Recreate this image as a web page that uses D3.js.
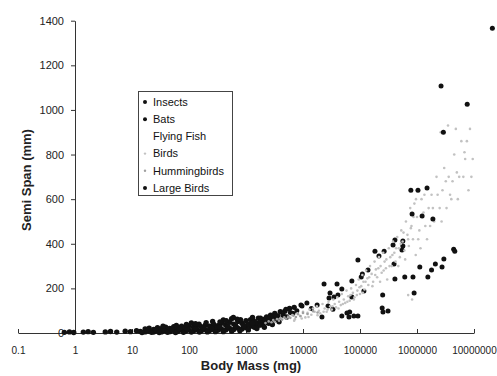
<!DOCTYPE html>
<html>
<head>
<meta charset="utf-8">
<script src="https://cdn.jsdelivr.net/npm/d3@7"></script>
<style>
  body { margin: 0; background: #fff; }
  svg { display: block; font-family: "Liberation Sans", Arial, sans-serif; }
</style>
</head>
<body>
<svg width="497" height="376"></svg>
<script>
const w = 497;
const h = 376;

// [body mass (mg), semi span (mm)]
const insects = [
  [0.65, 3], [0.8, 5], [0.95, 2], [1.4, 4], [1.7, 6], [2.1, 3], [3.4, 5], [4.2, 7], [5.4, 4],
  [7.6, 8], [9.4, 6], [12, 10], [14, 7],
  [17, 5], [17, 18], [20, 8], [20, 22], [24, 4], [24, 16], [28, 9], [28, 24], [33, 5], [33, 19],
  [39, 10], [39, 26], [46, 6], [46, 20], [54, 11], [54, 28], [63, 7], [63, 22], [74, 12], [74, 30],
  [87, 8], [87, 24], [100, 13], [100, 32], [120, 9], [120, 26], [140, 14], [140, 34], [165, 10],
  [165, 28], [195, 15], [195, 36], [230, 11], [230, 30], [270, 16], [270, 40], [320, 12], [320, 33],
  [370, 18], [370, 44], [440, 14], [440, 36], [520, 20], [520, 48], [610, 16], [610, 40], [720, 22],
  [720, 52], [850, 18], [850, 44], [1000, 24], [1000, 55], [1200, 30], [1200, 60], [1400, 26],
  [1400, 52], [1650, 35], [1650, 66], [1950, 40], [1950, 58], [2300, 48], [2300, 72], [2700, 55],
  [2700, 80], [110, 45], [150, 40], [260, 52], [300, 24], [400, 58], [480, 28], [560, 64], [600, 70],
  [660, 30], [800, 60], [900, 32], [1100, 40], [1300, 70], [1500, 45], [1800, 50], [2100, 62],
  [2500, 65], [3000, 70], [3200, 88], [3600, 76], [4000, 95],
  [15, 2], [19, 12], [22, 3], [26, 14], [30, 2], [36, 15], [42, 3], [50, 16], [58, 2], [68, 17],
  [80, 3], [93, 18], [110, 4], [130, 20], [152, 4], [180, 22], [210, 5], [250, 24], [290, 6],
  [345, 26], [400, 6], [480, 28], [560, 8], [660, 30], [780, 10], [920, 34], [1100, 14], [1300, 44],
  [1550, 20], [1800, 36], [2100, 26], [2500, 44], [2900, 38], [3300, 60], [3800, 50], [4500, 80],
  [5200, 72], [4800, 98], [5800, 110], [6600, 88], [7000, 115],
  [130, 42], [200, 46], [350, 50], [450, 55], [700, 62], [250, 20], [60, 34], [35, 30], [90, 38]
];

const bats = [
  [1800, 67], [3400, 76], [5000, 107], [6000, 92], [7800, 100], [9200, 125], [9600, 121],
  [11700, 134], [14000, 110], [17700, 125], [21500, 72], [23400, 220], [27500, 121], [28600, 157],
  [29800, 179], [33500, 107], [35000, 161], [39500, 220], [41000, 170], [48000, 197], [48000, 76],
  [59000, 90], [64000, 72], [66000, 94], [72000, 233], [72000, 161], [78000, 76], [92000, 76],
  [92000, 327], [105000, 251], [110000, 264], [117000, 188], [138000, 282], [183000, 367],
  [215000, 345], [245000, 112], [250000, 170], [253000, 94], [265000, 367], [310000, 99],
  [380000, 394], [395000, 309], [410000, 242], [410000, 417], [545000, 372], [565000, 390],
  [565000, 412], [610000, 251], [850000, 251], [890000, 179]
];

const flyingFish = [[25000, 110], [60000, 150], [120000, 200]];

const birds = [
  [5500, 70], [6500, 80], [7200, 62], [8000, 88], [9000, 75], [10000, 95], [11000, 70],
  [12000, 90], [13000, 105], [14000, 82], [15000, 110], [16000, 95], [17500, 120], [19000, 100],
  [20000, 88], [22000, 130], [24000, 110], [26000, 95], [28000, 140], [30000, 120],
  [32000, 105], [34000, 150], [36000, 130], [38000, 115], [40000, 160], [43000, 140], [46000, 125],
  [48000, 175], [52000, 150], [55000, 135], [58000, 190], [62000, 165], [66000, 145], [70000, 200],
  [75000, 180], [80000, 160], [85000, 215], [90000, 190], [95000, 240], [100000, 175],
  [105000, 210], [110000, 260], [115000, 230], [120000, 195], [128000, 280], [135000, 245],
  [140000, 215], [150000, 300], [160000, 265], [170000, 230], [180000, 320], [190000, 285],
  [200000, 250], [215000, 340], [230000, 300], [240000, 270], [255000, 360], [270000, 320],
  [285000, 290], [300000, 240], [320000, 380], [340000, 340], [360000, 300], [380000, 410],
  [400000, 360], [420000, 320], [450000, 430], [480000, 380], [500000, 340], [530000, 460],
  [560000, 410], [600000, 370], [640000, 500], [680000, 440], [720000, 390], [760000, 560],
  [800000, 480], [850000, 420], [900000, 580], [950000, 350], [700000, 170], [820000, 150],
  [1000000, 520], [1100000, 460], [1200000, 600], [1300000, 540], [1400000, 480], [1500000, 420],
  [1600000, 560], [1800000, 620], [2000000, 500], [2200000, 700], [2500000, 560], [2800000, 640],
  [3000000, 740], [3300000, 560], [3600000, 700], [4000000, 600], [4500000, 800], [5000000, 720],
  [5500000, 700], [6000000, 860], [7000000, 780], [8000000, 640], [9000000, 700], [3500000, 930],
  [2600000, 900], [4800000, 915], [8500000, 915], [6800000, 810],
  [7000, 55], [9500, 65], [12500, 72], [18000, 80], [23000, 95], [27000, 105], [33000, 120],
  [42000, 110], [50000, 130], [60000, 140], [68000, 170], [78000, 150], [88000, 170], [98000, 205],
  [112000, 180], [125000, 230], [145000, 250], [165000, 210], [185000, 260], [210000, 290],
  [225000, 230], [260000, 280], [290000, 330], [330000, 300], [370000, 350], [430000, 380],
  [470000, 300], [520000, 400], [580000, 450], [620000, 330], [700000, 420], [780000, 470],
  [870000, 520], [960000, 600], [1050000, 420], [1150000, 380], [1250000, 520], [1350000, 620],
  [1700000, 480], [1900000, 560], [2300000, 620], [2700000, 500], [3200000, 680], [3800000, 620],
  [4200000, 680], [5200000, 600], [6500000, 700], [7500000, 860], [9500000, 780]
];

const hummingbirds = [
  [2200, 45], [2500, 52], [2800, 48], [3000, 58], [3200, 50], [3500, 62], [3800, 55], [4000, 66],
  [4300, 60], [4700, 70], [5000, 64], [5500, 74], [6000, 68], [6800, 78], [7500, 72], [8200, 84],
  [9000, 76], [10000, 90], [12000, 85], [15000, 98], [18000, 92]
];

const largeBirds = [
  [780000, 640], [820000, 533], [1040000, 640], [1120000, 296], [1230000, 524], [1500000, 650],
  [1550000, 251], [1800000, 282], [1900000, 511], [2100000, 309], [2640000, 1107], [2750000, 296],
  [2900000, 900], [2960000, 332], [4400000, 376], [4600000, 367], [7600000, 1026], [21000000, 1366]
];

const xTicks = [0.1, 1, 10, 100, 1000, 10000, 100000, 1000000, 10000000];
const yTicks = [0, 200, 400, 600, 800, 1000, 1200, 1400];

const series = [
  { name: 'Insects', data: insects, color: '#111', r: 2.7 },
  { name: 'Bats', data: bats, color: '#111', r: 2.5 },
  { name: 'Flying Fish', data: flyingFish, color: '#fff', r: 1.2 },
  { name: 'Birds', data: birds, color: '#c2c2c2', r: 1.3 },
  { name: 'Hummingbirds', data: hummingbirds, color: '#a0a0a0', r: 1.3 },
  { name: 'Large Birds', data: largeBirds, color: '#111', r: 2.5 }
];

let canvas = d3.select('svg');

const xScale = d3.scaleLog().domain([0.1, 10000000]).range([18, 474]);
const yScale = d3.scaleLinear().domain([0, 1400]).range([333, 20.7]);

// x axis (ticks point up, into the plot)
let xAxis = d3.axisBottom(xScale)
  .tickValues(xTicks)
  .tickFormat((d) => (d < 1 ? '0.1' : d3.format('d')(d)))
  .tickSizeInner(-4)
  .tickSizeOuter(0)
  .tickPadding(14);

canvas.append('g')
  .attr('transform', `translate(0, ${yScale(0)})`)
  .call(xAxis)
  .call((g) => g.selectAll('text').attr('font-size', 10).attr('fill', '#222'));

// y axis crosses at mass = 1
let yAxis = d3.axisLeft(yScale)
  .tickValues(yTicks)
  .tickFormat(d3.format('d'))
  .tickSizeInner(4)
  .tickSizeOuter(0)
  .tickPadding(7);

canvas.append('g')
  .attr('transform', `translate(${xScale(1)}, 0)`)
  .call(yAxis)
  .call((g) => g.selectAll('text').attr('font-size', 11).attr('fill', '#222'));

canvas.selectAll('.domain, .tick line').attr('stroke', '#333');
canvas.selectAll('.tick text').attr('font-family', '"Liberation Sans", Arial, sans-serif');

// points
series.forEach((s) => {
  canvas.append('g')
    .selectAll('circle')
    .data(s.data)
    .enter()
    .append('circle')
    .attr('cx', (d) => xScale(d[0]))
    .attr('cy', (d) => yScale(d[1]))
    .attr('r', s.r)
    .attr('fill', s.color);
});

// axis titles
canvas.append('text')
  .attr('x', 251)
  .attr('y', 370)
  .attr('text-anchor', 'middle')
  .attr('font-size', 13)
  .attr('font-weight', 'bold')
  .attr('fill', '#222')
  .text('Body Mass (mg)');

canvas.append('text')
  .attr('transform', 'translate(31,180) rotate(-90)')
  .attr('text-anchor', 'middle')
  .attr('font-size', 13)
  .attr('font-weight', 'bold')
  .attr('fill', '#222')
  .text('Semi Span (mm)');

// legend
let legend = canvas.append('g');
legend.append('rect')
  .attr('x', 138.5)
  .attr('y', 91.5)
  .attr('width', 94)
  .attr('height', 104)
  .attr('fill', '#fff')
  .attr('stroke', '#444');

series.forEach((s, i) => {
  const y = 102 + i * 17.2;
  legend.append('circle')
    .attr('cx', 145)
    .attr('cy', y)
    .attr('r', s.r < 2 ? 1.2 : 2)
    .attr('fill', s.color);
  legend.append('text')
    .attr('x', 153)
    .attr('y', y)
    .attr('dy', '0.35em')
    .attr('font-size', 11)
    .attr('fill', '#111')
    .text(s.name);
});
</script>
</body>
</html>
